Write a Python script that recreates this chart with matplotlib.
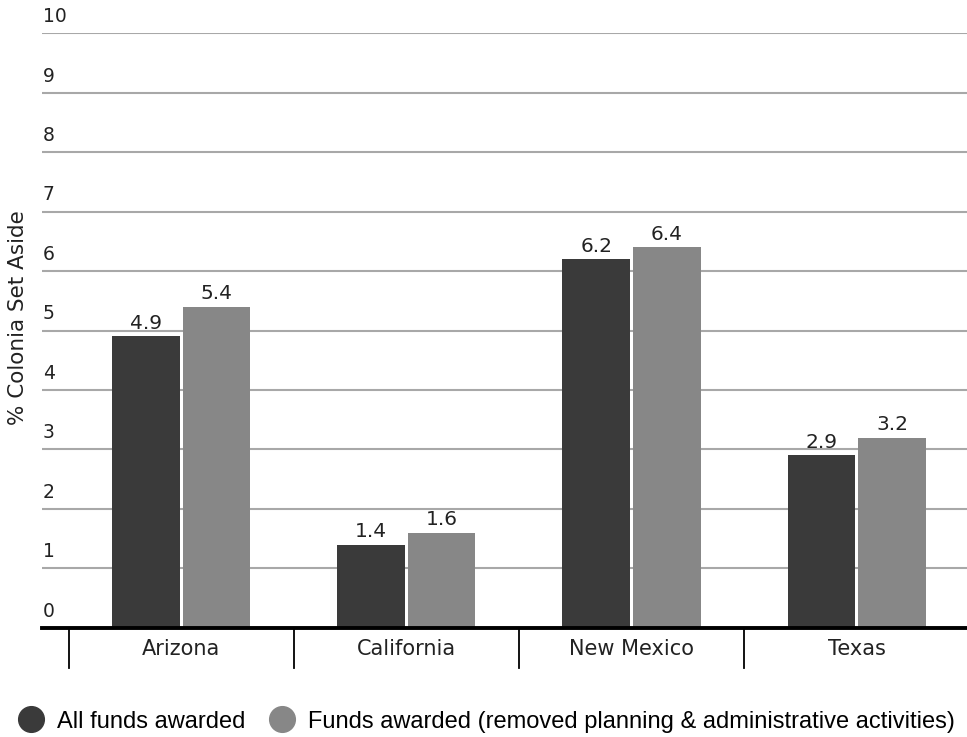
import matplotlib.pyplot as plt
from matplotlib.lines import Line2D
import numpy as np

states = ["Arizona", "California", "New Mexico", "Texas"]
all_funds = [4.9, 1.4, 6.2, 2.9]
no_admin = [5.4, 1.6, 6.4, 3.2]
yticks = list(range(0, 11))

dark = "#3a3a3a"
light = "#878787"
tick_font = "DejaVu Sans"

fig = plt.figure(figsize=(9.67, 7.37), dpi=100)
ax = fig.add_axes([0.0434, 0.148, 0.9566, 0.807])

x = np.arange(len(states))
w = 0.30
off = 0.157
ax.bar(x - off, all_funds, w, color=dark, zorder=3)
ax.bar(x + off, no_admin, w, color=light, zorder=3)

for xi, v in zip(x - off, all_funds):
    ax.text(xi, v + 0.06, f"{v}", ha="center", va="bottom", fontsize=14.5,
            family=tick_font, color="#222222")
for xi, v in zip(x + off, no_admin):
    ax.text(xi, v + 0.06, f"{v}", ha="center", va="bottom", fontsize=14.5,
            family=tick_font, color="#222222")

ax.set_xlim(-0.618, 3.49)
ax.set_ylim(0, 10)

# horizontal gridlines with labels sitting above them
for t in yticks[1:]:
    ax.axhline(t, color="#a8a8a8", lw=1.5, zorder=1)
for t in yticks:
    ax.text(-0.615, t + 0.12, str(t), ha="left", va="bottom", fontsize=13.5,
            family=tick_font, color="#222222", clip_on=False)
ax.axhline(0, color="black", lw=2.8, zorder=4, clip_on=False)

# category separators under the baseline
for s in [-0.5, 0.5, 1.5, 2.5]:
    ax.plot([s, s], [0, -0.67], color="black", lw=1.3, clip_on=False)
for xi, name in zip(x, states):
    ax.text(xi, -0.35, name, ha="center", va="center", fontsize=15,
            family=tick_font, color="#222222")

for sp in ax.spines.values():
    sp.set_visible(False)
ax.set_xticks([])
ax.set_yticks([])

fig.text(0.019, 0.569, "% Colonia Set Aside", rotation=90, ha="center",
         va="center", fontsize=15.5, family=tick_font, color="#222222")

handles = [
    Line2D([], [], marker="o", ls="none", markersize=18.5, color=dark),
    Line2D([], [], marker="o", ls="none", markersize=18.5, color=light),
]
fig.legend(handles, ["All funds awarded",
                     "Funds awarded (removed planning & administrative activities)"],
           loc="center", bbox_to_anchor=(0.502, 0.021), ncol=2, frameon=False,
           prop={"family": "Liberation Sans", "size": 17},
           handletextpad=0.5, columnspacing=0.95, handlelength=1.2,
           borderpad=0, borderaxespad=0)

fig.savefig("out.png", dpi=100)
